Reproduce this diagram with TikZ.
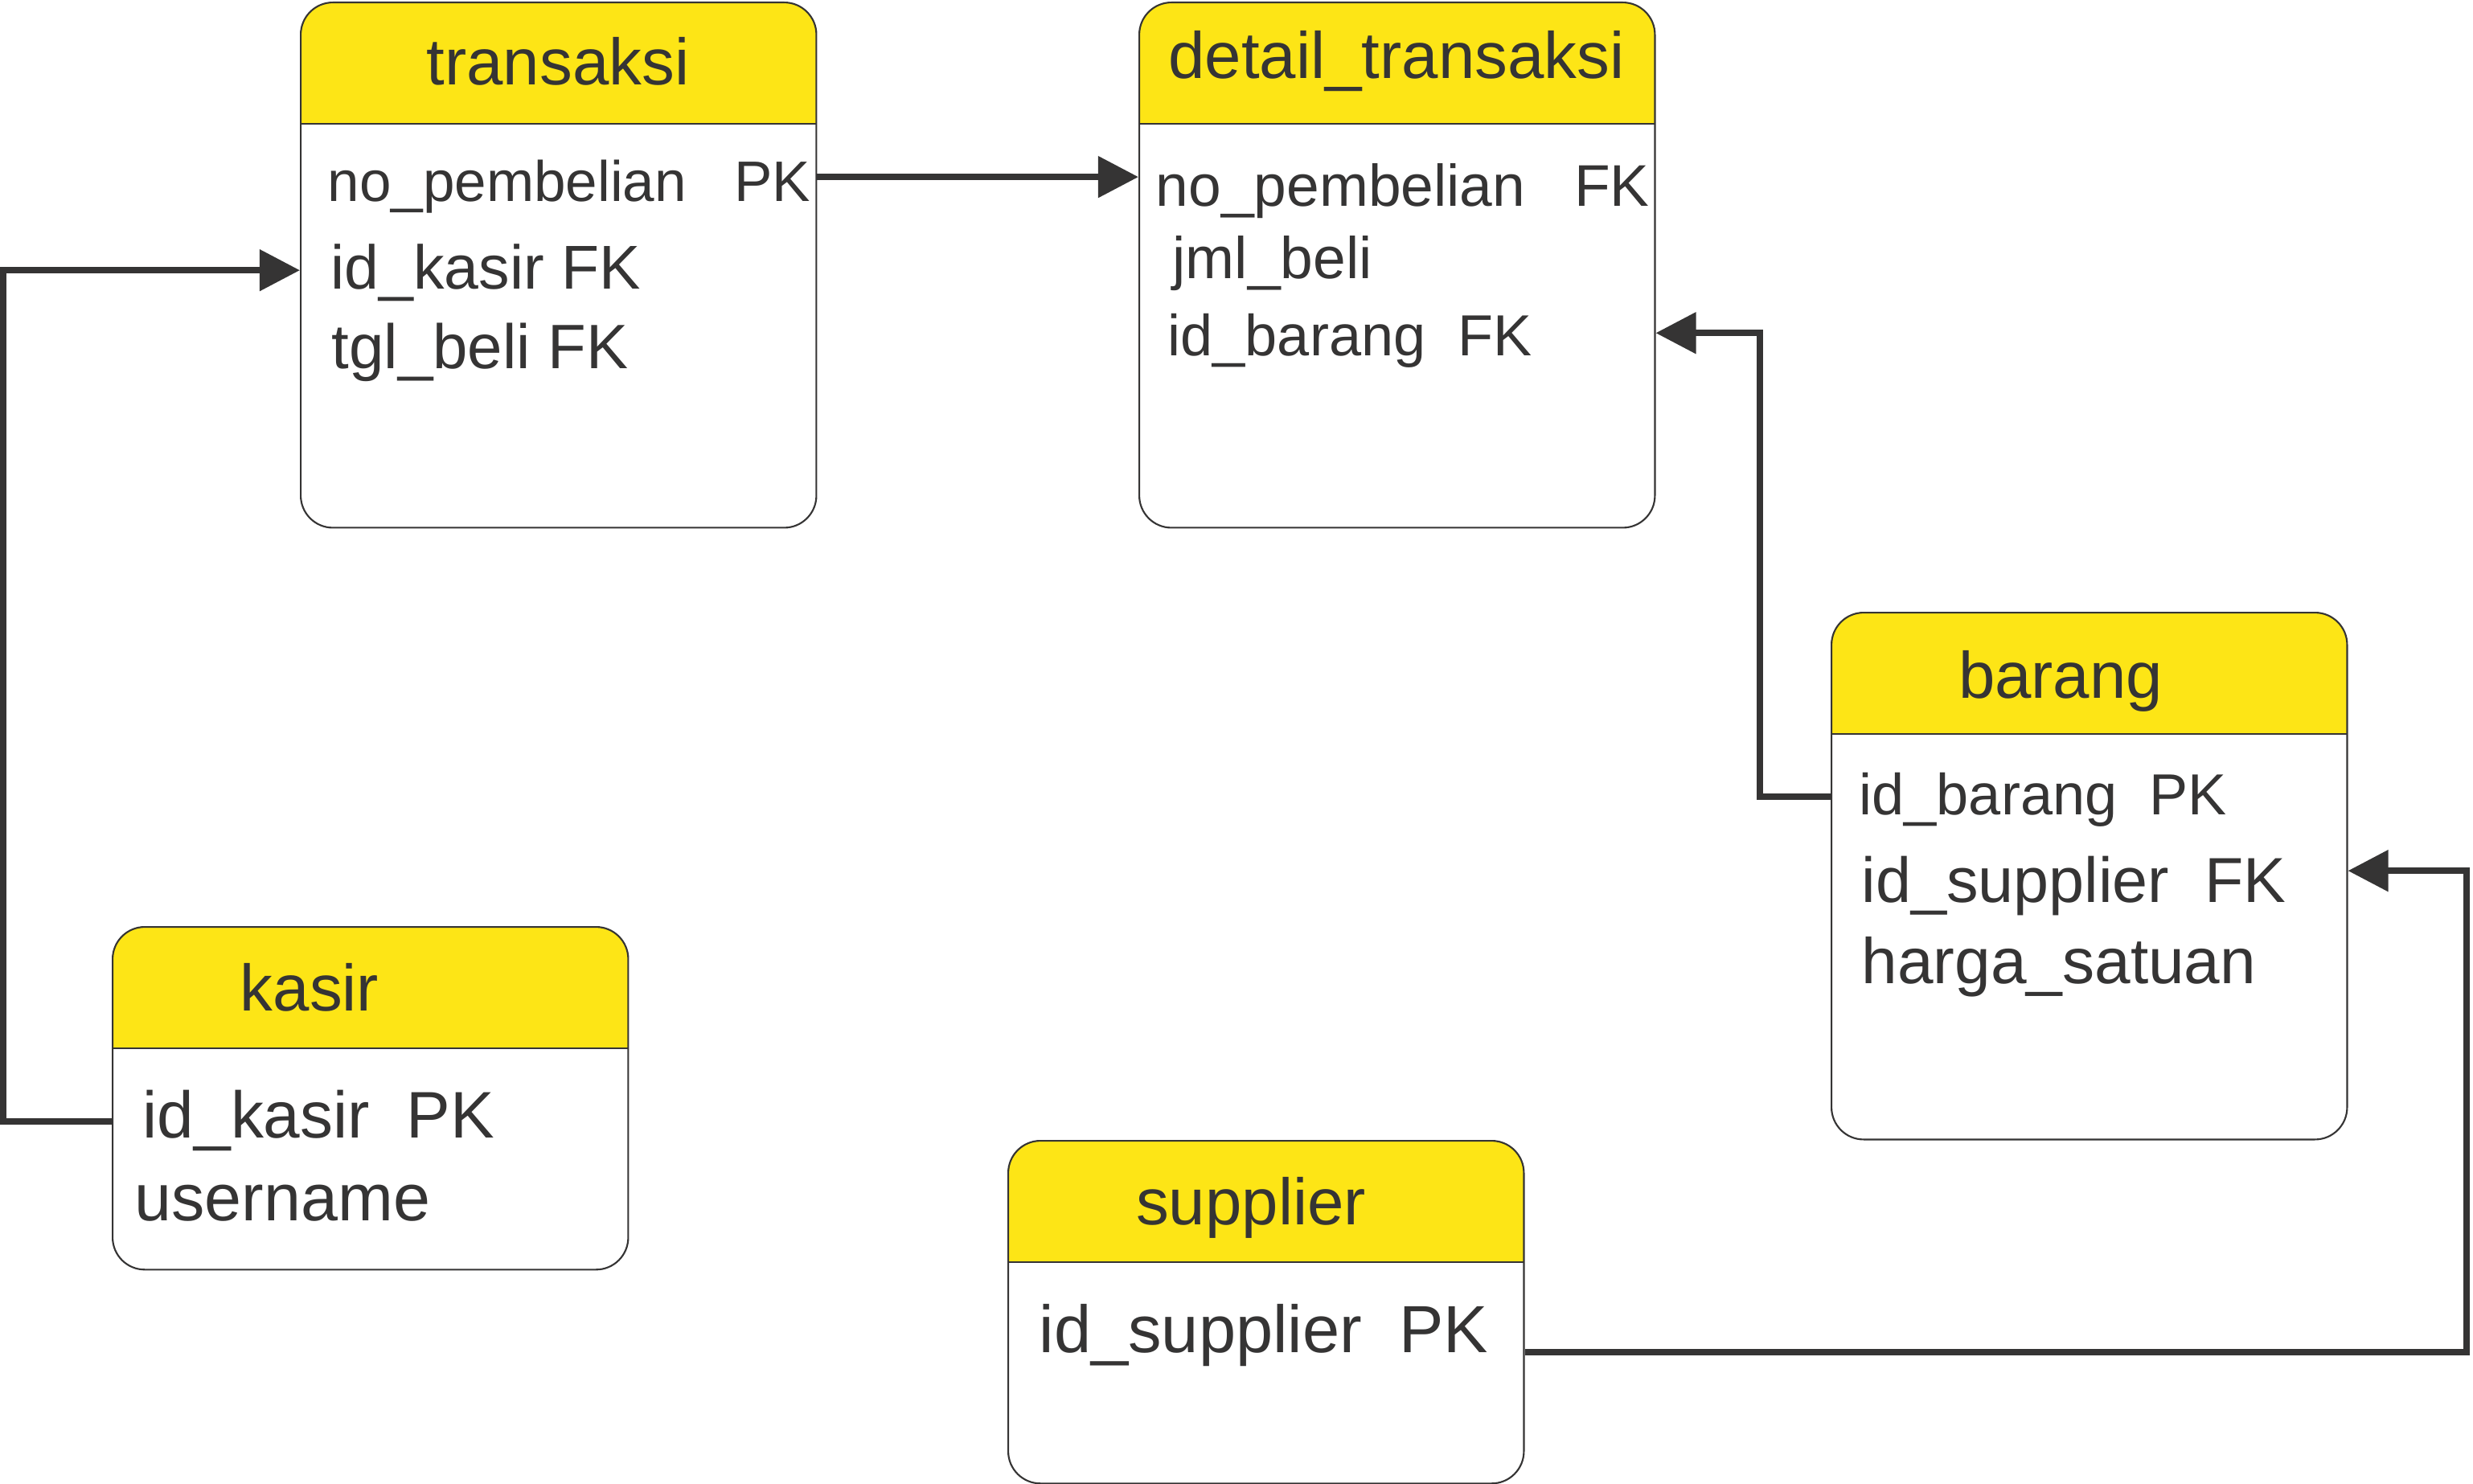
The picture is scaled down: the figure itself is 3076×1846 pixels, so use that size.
\documentclass[tikz,border=0pt]{standalone}
\usepackage{fontspec}
\setmainfont{Liberation Sans}
\usetikzlibrary{arrows.meta, positioning}
\definecolor{headyellow}{RGB}{253,229,22}
\definecolor{inkgray}{RGB}{53,52,52}
\tikzset{
    % Tables
    entity/.style = {
        draw=inkgray, line width=0.6pt, rounded corners=0.4cm, fill=white,
        inner sep=0, minimum width=6.41cm, anchor=north west,
        path picture={
            \fill[headyellow, sharp corners] (path picture bounding box.north west) rectangle ([yshift=-1.51cm]path picture bounding box.north east);
            \draw[inkgray, line width=0.6pt, sharp corners] ([yshift=-1.51cm]path picture bounding box.north west) -- ([yshift=-1.51cm]path picture bounding box.north east);
        }
    },
    title/.style = {font=\fontsize{23.2}{23.2}\selectfont, text=inkgray, inner sep=0, anchor=base},
    field/.style = {font=\fontsize{#1}{#1}\selectfont, text=inkgray, inner sep=0, anchor=base west},
    field/.default = 21,
    % Relations
    link/.style = {draw=inkgray, line width=0.08cm, -{Triangle[length=0.5cm, width=0.5cm]}}
}

\begin{document}
\begin{tikzpicture}[x=0.01cm, y=-0.01cm]
    \useasboundingbox (0,0) rectangle (3076,1846);

    \node[entity, minimum height=6.53cm] (transaksi) at (373,2) {};
    \node[entity, minimum height=6.53cm] (detail) at (1416,2) {};
    \node[entity, minimum height=6.55cm] (barang) at (2277,761) {};
    \node[entity, minimum height=4.26cm] (kasir) at (139,1152) {};
    \node[entity, minimum height=4.26cm] (supplier) at (1253,1418) {};

    \node[title] (transaksi-title) at (694,106) {transaksi};
    \node[title] (detail-title) at (1737,98) {detail\_transaksi};
    \node[title] (barang-title) at (2563,868) {barang};
    \node[title] (kasir-title) at (385,1257) {kasir};
    \node[title] (supplier-title) at (1556,1523) {supplier};

    \node[field=20.2] (t-nopem) at (407,251) {no\_pembelian~~~PK};
    \node[field=21.9] (t-kasir) at (411,360) {id\_kasir FK};
    \node[field=22.2] (t-tgl) at (412,459) {tgl\_beli FK};

    \node[field=20.8] (d-nopem) at (1437,257) {no\_pembelian~~~FK};
    \node[field=20.8] (d-jml) at (1458,347) {jml\_beli};
    \node[field=20.5] (d-barang) at (1452,443) {id\_barang~~FK};

    \node[field=20.5] (b-barang) at (2312,1013) {id\_barang~~PK};
    \node[field=22.5] (b-supplier) at (2315,1122) {id\_supplier~~FK};
    \node[field=22.8] (b-harga) at (2315,1223) {harga\_satuan};

    \node[field=23.3] (k-kasir) at (177,1415) {id\_kasir~~PK};
    \node[field=23.5] (k-user) at (167,1518) {username};

    \node[field=23.6] (s-supplier) at (1292,1682) {id\_supplier~~PK};

    % foreign keys
    \draw[link] ([yshift=-2.18cm]transaksi.north east) -- ([yshift=-2.18cm]detail.north west);
    \draw[link] ([yshift=-2.43cm]kasir.north west) -- ++(-135,0) |- ([yshift=-3.34cm]transaksi.north west);
    \draw[link] ([yshift=-2.30cm]barang.north west) -- ++(-88,0) |- ([yshift=-4.12cm]detail.north east);
    \draw[link] ([yshift=-2.64cm]supplier.north east) -- ++(1171,0) |- ([yshift=-3.22cm]barang.north east);
\end{tikzpicture}
\end{document}
